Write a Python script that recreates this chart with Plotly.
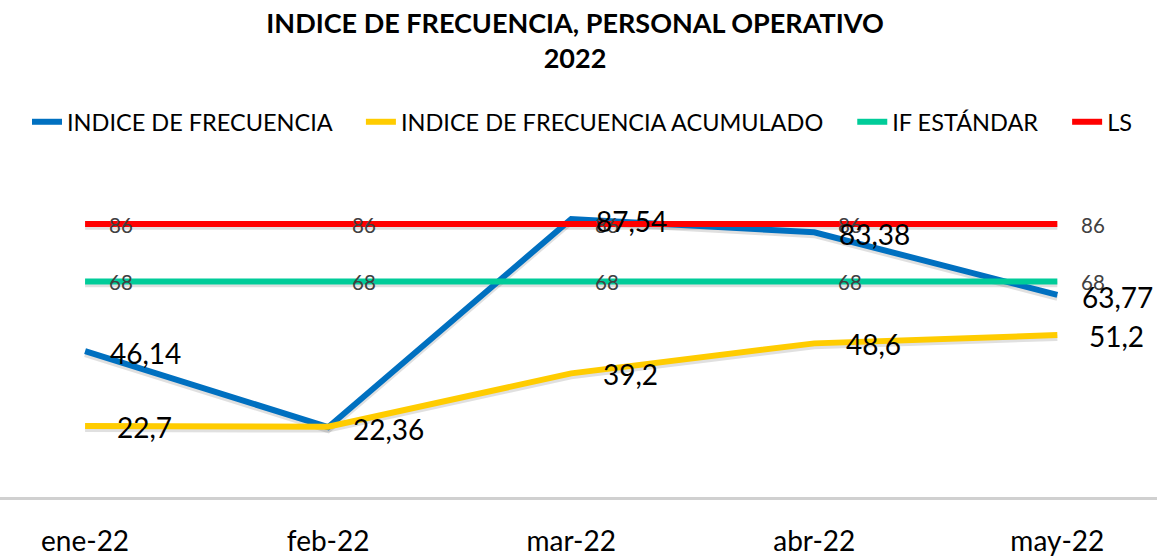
import plotly.graph_objects as go

categories = ["ene-22", "feb-22", "mar-22", "abr-22", "may-22"]
indice_frecuencia = [46.14, 22.36, 87.54, 83.38, 63.77]
indice_acumulado = [22.7, 22.5, 39.2, 48.6, 51.2]
if_estandar = [68, 68, 68, 68, 68]
ls_vals = [86, 86, 86, 86, 86]
show_acum_label = [True, False, True, True, True]

FONT = "Lato"
PAD = "\u00a0" * 4


def fmt(v):
    s = ("%g" % v).replace(".", ",")
    return s


fig = go.Figure()
xs = list(range(len(categories)))

series = [
    ("INDICE DE FRECUENCIA" + PAD, indice_frecuencia, "#0070C0"),
    ("INDICE DE FRECUENCIA ACUMULADO" + PAD, indice_acumulado, "#FFCC00"),
    ("IF ESTÁNDAR" + PAD, if_estandar, "#00CC99"),
    ("LS", ls_vals, "#FF0000"),
]

# subtle shadows
for name, vals, col in series:
    fig.add_trace(go.Scatter(x=xs, y=[v - 0.9 for v in vals], mode="lines",
                             line=dict(color="rgba(0,0,0,0.12)", width=6),
                             showlegend=False, hoverinfo="skip"))

for name, vals, col in series:
    fig.add_trace(go.Scatter(x=xs, y=vals, mode="lines", name=name,
                             line=dict(color=col, width=6)))

annotations = []
# small gray labels for reference lines
for vals in (if_estandar, ls_vals):
    for i, v in enumerate(vals):
        annotations.append(dict(x=i, y=v, text=fmt(v), showarrow=False,
                                xanchor="left", yanchor="middle", xshift=22, yshift=-1,
                                font=dict(family=FONT, size=20.5, color="#404040")))
for i, v in enumerate(indice_acumulado):
    if show_acum_label[i]:
        annotations.append(dict(x=i, y=v, text=fmt(v), showarrow=False,
                                xanchor="left", yanchor="middle", xshift=30, yshift=-1,
                                font=dict(family=FONT, size=28, color="#000000")))
for i, v in enumerate(indice_frecuencia):
    annotations.append(dict(x=i, y=v, text=fmt(v), showarrow=False,
                            xanchor="left", yanchor="middle", xshift=23, yshift=-2,
                            font=dict(family=FONT, size=28, color="#000000")))

fig.update_layout(
    width=1157, height=556,
    margin=dict(l=0, r=0, t=176, b=59, autoexpand=False),
    paper_bgcolor="white", plot_bgcolor="white",
    title=dict(text="<b>INDICE DE FRECUENCIA, PERSONAL OPERATIVO<br>2022</b>",
               x=0.497, xanchor="center", y=1 - 33 / 556, yanchor="middle",
               yref="container", xref="container",
               font=dict(family=FONT, size=27, color="#000000")),
    legend=dict(orientation="h", x=27 / 1157, xanchor="left", y=1 - 122 / 556, yanchor="middle",
                xref="container", yref="container",
                font=dict(family=FONT, size=23.5, color="#000000"),
                itemwidth=30, tracegroupgap=0, bgcolor="rgba(0,0,0,0)"),
    annotations=annotations,
    showlegend=True,
)
fig.update_xaxes(tickmode="array", tickvals=xs, ticktext=categories,
                 range=[-0.35, 4.41], showgrid=False, zeroline=False,
                 showline=True, linecolor="#D0D0D0", linewidth=2.5,
                 ticks="", ticklabelstandoff=18, automargin=False,
                 tickfont=dict(family=FONT, size=28, color="#000000"))
fig.update_yaxes(range=[0.5, 101], showgrid=False, zeroline=False,
                 showticklabels=False, showline=False, automargin=False)

fig.write_html("out.html", config={"displayModeBar": False},
               post_script="document.body.style.margin='0';")
